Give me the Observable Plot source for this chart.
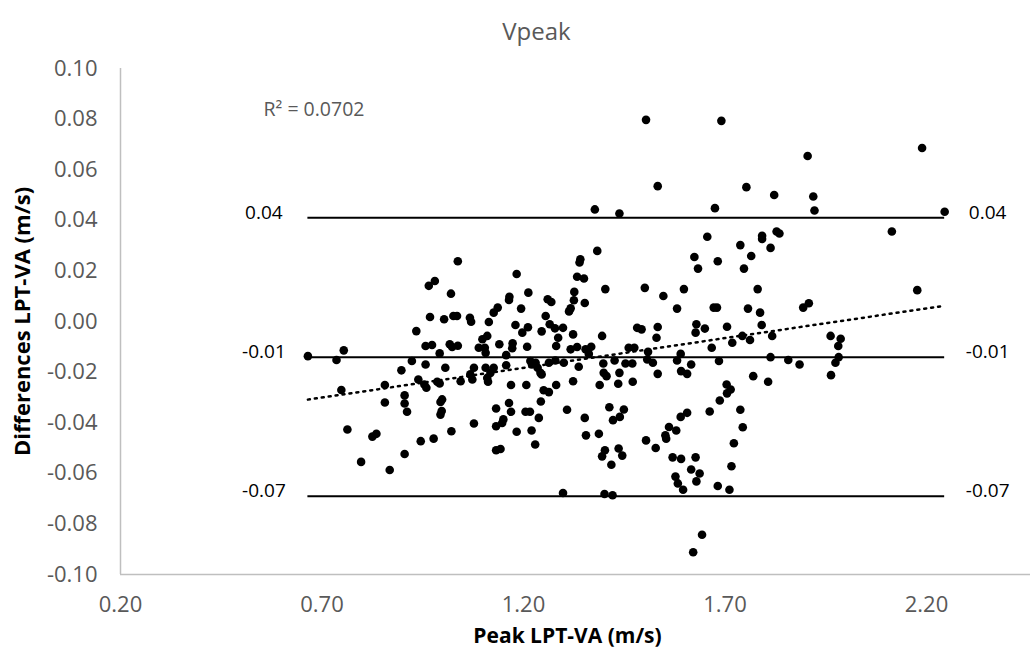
<!DOCTYPE html>
<html><head><meta charset="utf-8">
<script src="https://cdn.jsdelivr.net/npm/d3@7"></script>
<script src="https://cdn.jsdelivr.net/npm/@observablehq/plot@0.6"></script>
<style>body{margin:0;background:#fff;} svg{display:block;}</style>
</head><body><div id="chart"></div>
<script>
const title = "Vpeak";
const xLabel = "Peak LPT-VA (m/s)";
const yLabel = "Differences LPT-VA (m/s)";
const r2Label = "R² = 0.0702";
const xTicks = [0.2, 0.7, 1.2, 1.7, 2.2];
const yTicks = [-0.1, -0.08, -0.06, -0.04, -0.02, 0, 0.02, 0.04, 0.06, 0.08, 0.1];
const limits = [0.041, -0.0141, -0.0691];
const points = [
[0.665,-0.0137],[0.736,-0.0152],[0.754,-0.0114],[0.748,-0.0271],[0.763,-0.0427],[0.825,-0.0455],[0.835,-0.0444],[0.797,-0.0555],[0.868,-0.0587],[0.856,-0.0251],
[0.856,-0.032],[0.897,-0.0193],[0.905,-0.0292],[0.905,-0.0324],[0.911,-0.0357],[0.905,-0.0524],[0.923,-0.0156],[0.934,-0.0038],[0.939,-0.0229],[0.945,-0.0473],
[0.954,-0.0249],[0.959,-0.0262],[0.957,-0.017],[0.957,-0.0097],[0.973,-0.0093],[0.992,-0.0126],[0.977,-0.0463],[0.986,-0.0238],[0.992,-0.0245],[0.998,-0.0308],
[0.994,-0.0318],[0.997,-0.0354],[0.994,-0.0368],[1.006,-0.0183],[1.021,-0.0434],[1.017,-0.009],[1.023,-0.0101],[1.037,-0.0096],[1.044,-0.0236],[1.037,0.0238],
[0.965,0.0141],[0.980,0.016],[1.020,0.011],[0.968,0.0018],[1.003,0.0009],[1.026,0.0022],[1.035,0.0022],
[1.377,0.0443],[1.438,0.0427],[1.383,0.0279],[1.339,0.0233],[1.341,0.0246],[1.183,0.0188],[1.333,0.0177],[1.350,0.017],[1.403,0.0128],[1.212,0.0114],
[1.165,0.0098],[1.164,0.0085],[1.326,0.0117],[1.260,0.0088],[1.269,0.0077],[1.325,0.0084],[1.352,0.0073],[1.136,0.0055],[1.126,0.0035],[1.194,0.0051],
[1.317,0.0052],[1.313,0.004],[1.067,0.0015],[1.070,-0.0001],[1.114,-0.0002],[1.255,0.0022],[1.180,-0.0014],[1.211,-0.0023],[1.197,-0.0044],[1.245,-0.0039],
[1.265,-0.0011],[1.278,-0.0027],[1.298,-0.0025],[1.323,-0.0051],[1.110,-0.0057],[1.395,-0.0057],[1.098,-0.007],[1.089,-0.0104],[1.104,-0.0104],[1.106,-0.0124],
[1.140,-0.009],[1.173,-0.0086],[1.172,-0.0106],[1.209,-0.010],[1.286,-0.0064],[1.281,-0.0097],[1.317,-0.011],[1.333,-0.0101],[1.354,-0.011],[1.368,-0.010],
[1.362,-0.0128],[1.157,-0.0133],[1.077,-0.0183],[1.068,-0.0209],[1.073,-0.0229],[1.106,-0.0183],[1.126,-0.0183],[1.118,-0.0203],[1.110,-0.0223],[1.112,-0.0238],
[1.157,-0.0173],[1.217,-0.0156],[1.230,-0.0163],[1.235,-0.0183],[1.242,-0.0203],[1.245,-0.0209],[1.221,-0.017],[1.263,-0.0163],[1.279,-0.0154],[1.300,-0.0163],
[1.337,-0.0179],[1.169,-0.0251],[1.207,-0.0251],[1.250,-0.0272],[1.263,-0.0279],[1.281,-0.0251],[1.323,-0.0236],[1.398,-0.0166],[1.399,-0.0203],[1.406,-0.0216],
[1.389,-0.0251],[1.426,-0.0154],[1.438,-0.0203],[1.435,-0.0246],[1.164,-0.0322],[1.169,-0.0357],[1.132,-0.0344],[1.243,-0.0316],[1.205,-0.0357],[1.216,-0.0357],
[1.238,-0.0381],[1.308,-0.0349],[1.077,-0.0403],[1.132,-0.0414],[1.147,-0.0401],[1.150,-0.0387],[1.183,-0.0436],[1.220,-0.0431],[1.229,-0.0486],[1.132,-0.0509],
[1.143,-0.0504],[1.352,-0.0381],[1.355,-0.045],[1.387,-0.0444],[1.413,-0.0339],[1.422,-0.039],[1.439,-0.0377],[1.449,-0.0348],[1.402,-0.0509],[1.395,-0.0533],
[1.436,-0.0502],[1.445,-0.053],[1.418,-0.0566],[1.298,-0.0678],[1.401,-0.0682],[1.421,-0.0687],
[1.504,0.0797],[1.691,0.0793],[1.533,0.0535],[1.753,0.0531],[1.822,0.050],[1.675,0.0448],[1.656,0.0335],[1.738,0.0302],[1.792,0.0339],[1.792,0.0326],
[1.828,0.0356],[1.835,0.0348],[1.813,0.0291],[1.765,0.0259],[1.624,0.0255],[1.633,0.0209],[1.682,0.0238],[1.747,0.0209],[1.501,0.0133],[1.547,0.0101],
[1.598,0.0128],[1.781,0.0128],[1.581,0.0051],[1.672,0.0055],[1.680,0.0055],[1.757,0.0051],[1.787,0.0035],[1.482,-0.0025],[1.493,-0.0031],[1.533,-0.0022],
[1.629,-0.0011],[1.627,-0.0044],[1.650,-0.0028],[1.705,-0.0021],[1.791,-0.0014],[1.817,-0.0057],[1.743,-0.0057],[1.530,-0.0064],[1.461,-0.0104],[1.475,-0.0104],
[1.509,-0.012],[1.590,-0.0128],[1.667,-0.0104],[1.718,-0.0084],[1.762,-0.0073],[1.453,-0.0166],[1.470,-0.0166],[1.507,-0.015],[1.521,-0.0163],[1.581,-0.0154],
[1.616,-0.017],[1.685,-0.0156],[1.813,-0.0141],[1.857,-0.0152],[1.533,-0.0207],[1.591,-0.0196],[1.606,-0.0207],[1.471,-0.0238],[1.770,-0.0216],[1.807,-0.0238],
[1.704,-0.0249],[1.714,-0.0269],[1.705,-0.0284],[1.687,-0.0312],[1.590,-0.0377],[1.606,-0.0361],[1.662,-0.0356],[1.738,-0.0349],[1.744,-0.0418],[1.561,-0.0417],
[1.579,-0.0431],[1.552,-0.045],[1.554,-0.0463],[1.504,-0.047],[1.528,-0.050],[1.722,-0.0481],[1.570,-0.0537],[1.591,-0.0543],[1.627,-0.0537],[1.616,-0.0585],
[1.637,-0.0601],[1.577,-0.0613],[1.583,-0.064],[1.596,-0.0665],[1.629,-0.0632],[1.716,-0.0572],[1.682,-0.065],[1.711,-0.0665],[1.643,-0.0843],[1.621,-0.0912],
[1.905,0.0654],[2.189,0.0686],[1.919,0.0494],[1.922,0.0439],[2.245,0.0434],[2.114,0.0356],[2.177,0.0124],[1.894,0.0055],[1.908,0.0072],[1.962,-0.0057],
[1.987,-0.0068],[1.981,-0.0097],[1.982,-0.0141],[1.974,-0.0163],[1.885,-0.017],[1.963,-0.0212]
];
const data = points.map(([peak, diff]) => ({peak, diff}));
const xMin = d3.min(data, d => d.peak);
const xMax = d3.max(data, d => d.peak);
const fmt = d => d.toFixed(2);

const chart = Plot.plot({
  width: 1033, height: 654,
  marginLeft: 120, marginRight: 3, marginTop: 68, marginBottom: 80,
  style: {fontFamily: "'Open Sans', sans-serif", background: "#fff", overflow: "visible"},
  x: {domain: [0.2, 2.458]},
  y: {domain: [-0.1, 0.1]},
  marks: [
    Plot.ruleX([0.2], {stroke: "#bfbfbf", strokeWidth: 1.5}),
    Plot.ruleY([-0.1], {stroke: "#bfbfbf", strokeWidth: 1.5}),
    Plot.axisY({ticks: yTicks, tickFormat: fmt, tickSize: 0, tickPadding: 23, fontSize: 22, fill: "#595959", label: null}),
    Plot.axisX({ticks: xTicks, tickFormat: fmt, tickSize: 0, tickPadding: 22, fontSize: 22, fill: "#595959", label: null}),
    Plot.dot(data, {x: "peak", y: "diff", r: 4.3, fill: "#000", stroke: "none"}),
    Plot.ruleY(limits, {x1: () => xMin, x2: () => xMax, y: d => d, stroke: "#000", strokeWidth: 2}),
    Plot.linearRegressionY(data, {x: "peak", y: "diff", ci: 0, stroke: "#000", strokeWidth: 2.5, strokeDasharray: "2,5"}),
    Plot.text(limits, {x: () => xMin, y: d => d, text: fmt, dx: -44, dy: -5, fontSize: 19, fill: "#000", textAnchor: "middle"}),
    Plot.text(limits, {x: () => xMax, y: d => d, text: fmt, dx: 43, dy: -5, fontSize: 19, fill: "#000", textAnchor: "middle"}),
    Plot.text([title], {frameAnchor: "top", dx: -39, dy: -46, fontSize: 24, fill: "#595959", textAnchor: "middle"}),
    Plot.text([r2Label], {frameAnchor: "top-left", dx: 143, dy: 34, fontSize: 19.5, fill: "#595959", textAnchor: "start"}),
    Plot.text([yLabel], {frameAnchor: "left", rotate: -90, dx: -98, fontSize: 22, fontWeight: "bold", fill: "#000", textAnchor: "middle"}),
    Plot.text([xLabel], {frameAnchor: "bottom", dx: -8, dy: 68, fontSize: 21, fontWeight: "bold", fill: "#000", textAnchor: "middle"})
  ]
});
document.getElementById("chart").appendChild(chart);
</script>
</body></html>
